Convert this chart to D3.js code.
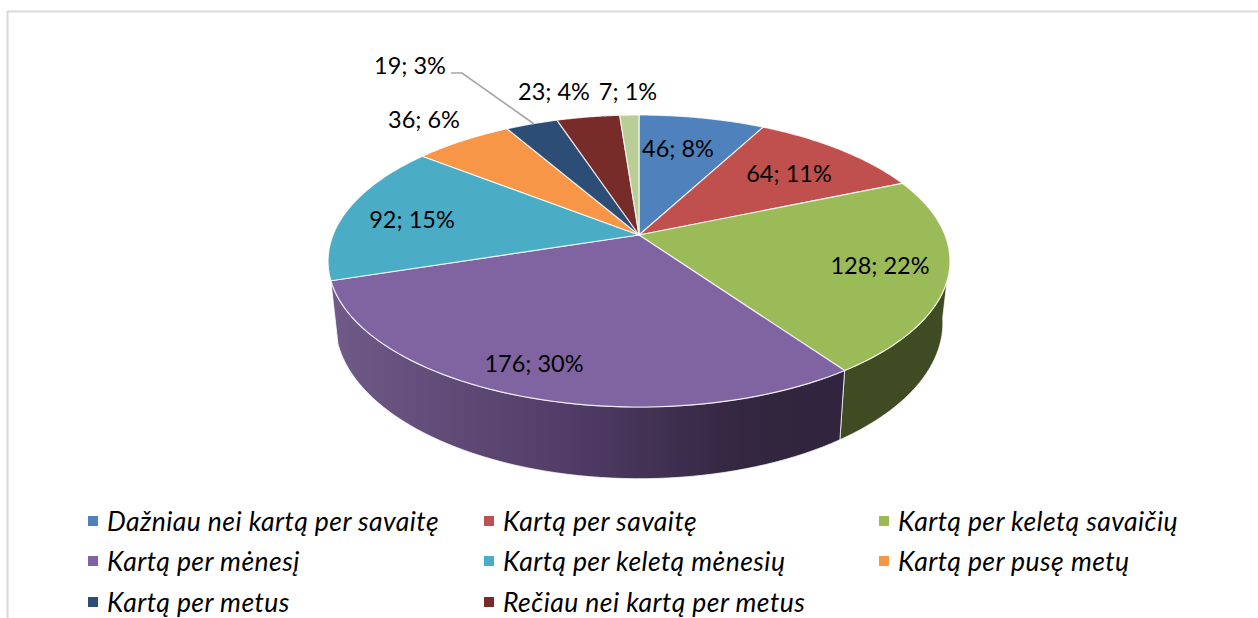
<!DOCTYPE html>
<html><head><meta charset="utf-8">
<script src="https://cdn.jsdelivr.net/npm/d3@7/dist/d3.min.js"></script>
<style>html,body{margin:0;padding:0;background:#fff}svg{display:block}</style>
</head><body><svg id="c" width="1258" height="618"></svg>
<script>
const categories = ["Dažniau nei kartą per savaitę","Kartą per savaitę","Kartą per keletą savaičių","Kartą per mėnesį","Kartą per keletą mėnesių","Kartą per pusę metų","Kartą per metus","Rečiau nei kartą per metus",""];
const values = [46,64,128,176,92,36,19,23,7];
const percents = [8,11,22,30,15,6,3,4,1];
const colors = ["#4f81bd","#c0504d","#9bbb59","#8064a2","#4bacc6","#f79646","#2c4d75","#772c2a","#b9cd96"];
const sideDark = ["#2f4b70","#732f2d","#3f4b22","#4d3c61","#2d6776","#94592a","#1a2e46","#471a19","#6f7b5a"];

const svg = d3.select("#c");
const defs = svg.append("defs");
const g = defs.append("linearGradient").attr("id","wall").attr("gradientUnits","userSpaceOnUse")
  .attr("x1",332).attr("x2",846).attr("y1",0).attr("y2",0);
g.append("stop").attr("offset",0).attr("stop-color","#6f5a88");
g.append("stop").attr("offset",0.45).attr("stop-color","#523d68");
g.append("stop").attr("offset",0.8).attr("stop-color","#33263f");
g.append("stop").attr("offset",1).attr("stop-color","#30243e");

// frame
svg.append("path").attr("d","M7.5,618V11.5H1258").attr("fill","none").attr("stroke","#d9d9d9").attr("stroke-width",2);

const pie = d3.pie().sort(null).value(d=>d);
const arcs = pie(values);

const k = 0.178;
function proj(plane, t){
  const u = Math.sin(t), v = Math.cos(t), den = 1 + k*v;
  return [plane.cx + plane.a*u/den, plane.cy - plane.b*v/den];
}
const top_ = {cx:639, cy:235, a:306, b:141.4};
const bot = {cx:639, cy:295, a:299, b:151};
const line = d3.line();
function samples(t0,t1){ return d3.range(0,61).map(i=>t0+(t1-t0)*i/60); }

// side walls: only the front-facing arcs (green and purple slices)
const wallStart = 1.72;
arcs.forEach((d,i)=>{
  if(i!==2 && i!==3) return;
  const a0 = Math.max(d.startAngle,wallStart), a1 = d.endAngle;
  const pts = samples(a0,a1).map(t=>proj(top_,t)).concat(samples(a1,a0).map(t=>proj(bot,t)));
  svg.append("path").attr("d",line(pts)+"Z")
    .attr("fill", i===3 ? "url(#wall)" : sideDark[i])
    .attr("stroke","#fff").attr("stroke-opacity",0.75).attr("stroke-width",1);
});

// top faces
arcs.forEach((d,i)=>{
  const pts = [[top_.cx,top_.cy]].concat(samples(d.startAngle,d.endAngle).map(t=>proj(top_,t)));
  svg.append("path").attr("d",line(pts)+"Z").attr("fill",colors[i])
    .attr("stroke","#fff").attr("stroke-opacity",0.8).attr("stroke-width",1.2).attr("stroke-linejoin","round");
});

// data labels
const labelX = [678,789,880,534,412,424,410,554,628];
const labelY = [157,182,274,372,228,128,74,100,100];
svg.append("path").attr("d","M451,73H462L534,124").attr("fill","none").attr("stroke","#a6a6a6").attr("stroke-width",1.6);
values.forEach((v,i)=>{
  svg.append("text").attr("x",labelX[i]).attr("y",labelY[i]).attr("text-anchor","middle")
   .attr("font-family","Lato, sans-serif").attr("font-size",23.5).attr("fill","#000")
   .text(`${v}; ${percents[i]}%`);
});

// legend
const legX = [88,484,879], legY = [522,562,603];
categories.slice(0,8).forEach((c,i)=>{
  const col=i%3,row=Math.floor(i/3);
  svg.append("rect").attr("x",legX[col]).attr("y",legY[row]-6).attr("width",10).attr("height",10).attr("fill",colors[i]);
  svg.append("text").attr("x",legX[col]+19).attr("y",legY[row]+9).attr("font-family","Lato, sans-serif")
   .attr("font-style","italic").attr("font-size",26.5).attr("letter-spacing",0.45).attr("fill","#000").text(c);
});
</script></body></html>
